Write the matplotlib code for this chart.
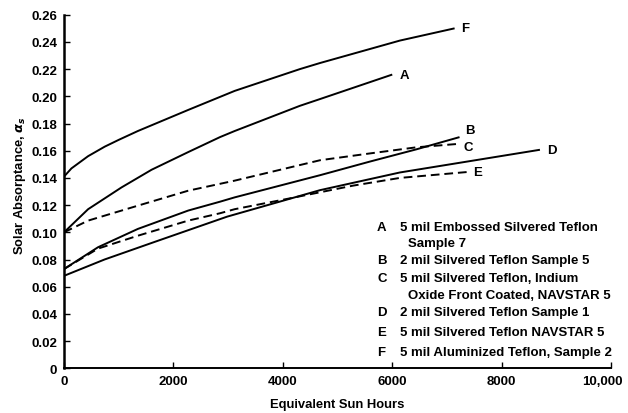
import matplotlib
matplotlib.use("Agg")
import matplotlib.pyplot as plt
import matplotlib.transforms as mtransforms

plt.rcParams["font.family"] = ["Liberation Sans", "DejaVu Sans"]
plt.rcParams["font.weight"] = "bold"

# Solar absorptance vs equivalent sun hours, one curve per sample
hours_a = [0, 440, 1050, 1600, 2270, 2850, 3120, 4310, 4680, 6000]
alpha_a = [0.100, 0.117, 0.133, 0.146, 0.159, 0.170, 0.1745, 0.193, 0.198, 0.216]

hours_b = [0, 620, 1350, 2270, 2850, 3120, 4680, 5590, 6440, 7230]
alpha_b = [0.073, 0.089, 0.1025, 0.116, 0.1225, 0.1257, 0.142, 0.152, 0.161, 0.170]

hours_c = [0, 440, 1350, 2270, 3120, 4680, 5590, 6440, 7200]
alpha_c = [0.100, 0.1086, 0.1196, 0.1306, 0.138, 0.153, 0.158, 0.1625, 0.165]

hours_d = [0, 740, 1660, 2980, 4680, 6140, 8700]
alpha_d = [0.068, 0.080, 0.093, 0.1115, 0.131, 0.144, 0.1607]

hours_e = [0, 620, 1350, 2270, 2850, 3120, 4070, 5280, 6140, 7360]
alpha_e = [0.073, 0.088, 0.0975, 0.1086, 0.114, 0.117, 0.1245, 0.1343, 0.140, 0.1443]

hours_f = [0, 135, 440, 744, 1000, 1350, 2270, 3120, 4310, 4680, 6140, 7140]
alpha_f = [0.141, 0.147, 0.156, 0.163, 0.168, 0.1745, 0.190, 0.204, 0.220, 0.2245, 0.241, 0.250]

curve_names = ["A", "B", "C", "D", "E", "F"]
curve_dashed = [False, False, True, False, True, False]

legend_lines = [
    ("A", "5 mil Embossed Silvered Teflon"),
    ("", "Sample 7"),
    ("B", "2 mil Silvered Teflon Sample 5"),
    ("C", "5 mil Silvered Teflon, Indium"),
    ("", "Oxide Front Coated, NAVSTAR 5"),
    ("D", "2 mil Silvered Teflon Sample 1"),
    ("E", "5 mil Silvered Teflon NAVSTAR 5"),
    ("F", "5 mil Aluminized Teflon, Sample 2"),
]

x_ticks = [0, 2000, 4000, 6000, 8000, 10000]
x_tick_labels = ["0", "2000", "4000", "6000", "8000", "10,000"]
y_ticks = [0, 0.02, 0.04, 0.06, 0.08, 0.10, 0.12, 0.14, 0.16, 0.18, 0.20, 0.22, 0.24, 0.26]
y_tick_labels = ["0"] + ["%.2f" % v for v in y_ticks[1:]]


def main():
    fig = plt.figure(figsize=(6.28, 4.14), dpi=100)
    ax = fig.add_axes([0.102, 0.108, 0.871, 0.854])

    series = [
        (hours_a, alpha_a), (hours_b, alpha_b), (hours_c, alpha_c),
        (hours_d, alpha_d), (hours_e, alpha_e), (hours_f, alpha_f),
    ]
    # small nudges so the end letters of B and C don't collide
    label_offsets = {"B": (4, 5), "C": (4, -2)}
    for (hx, hy), name, dashed in zip(series, curve_names, curve_dashed):
        ls = (0, (4.5, 2.5)) if dashed else "-"
        ax.plot(hx, hy, color="black", lw=1.4, ls=ls, solid_capstyle="butt")
        off = label_offsets.get(name, (5, 0))
        ax.annotate(name, (hx[-1], hy[-1]), xytext=off, textcoords="offset points",
                    ha="left", va="center", fontsize=9.5, fontweight="bold")

    ax.set_xlim(0, 10000)
    ax.set_ylim(0, 0.26)
    ax.set_xticks(x_ticks)
    ax.set_xticklabels(x_tick_labels)
    ax.set_yticks(y_ticks)
    ax.set_yticklabels(y_tick_labels)
    ax.tick_params(direction="in", length=4, width=1.0, labelsize=9.5, pad=5)

    # pull the last x label in so it stays inside the figure
    last = ax.get_xticklabels()[-1]
    last.set_transform(last.get_transform() +
                       mtransforms.ScaledTranslation(-9 / 100, 0, fig.dpi_scale_trans))

    for side in ["top", "right"]:
        ax.spines[side].set_visible(False)
    ax.spines["left"].set_linewidth(1.8)
    ax.spines["bottom"].set_linewidth(1.4)

    ax.set_xlabel("Equivalent Sun Hours", fontsize=9.4, fontweight="bold", va="top")
    ax.xaxis.set_label_coords(0.5, -0.083)
    ax.set_ylabel(r"Solar Absorptance, $\alpha_s$", fontsize=9.4, fontweight="bold")
    ax.yaxis.set_label_coords(-0.066, 0.52)

    # sample key in the lower right of the plot area
    y_px = [228, 244, 261, 279, 296, 313, 333, 353]
    for (letter, text), yp in zip(legend_lines, y_px):
        yf = 1 - yp / 414
        if letter:
            fig.text(377 / 628, yf, letter, fontsize=9.5, fontweight="bold", va="center")
            fig.text(400 / 628, yf, text, fontsize=9.5, fontweight="bold", va="center")
        else:
            fig.text(408 / 628, yf, text, fontsize=9.5, fontweight="bold", va="center")

    fig.savefig("out.png", dpi=100)
    plt.close(fig)


if __name__ == "__main__":
    main()
